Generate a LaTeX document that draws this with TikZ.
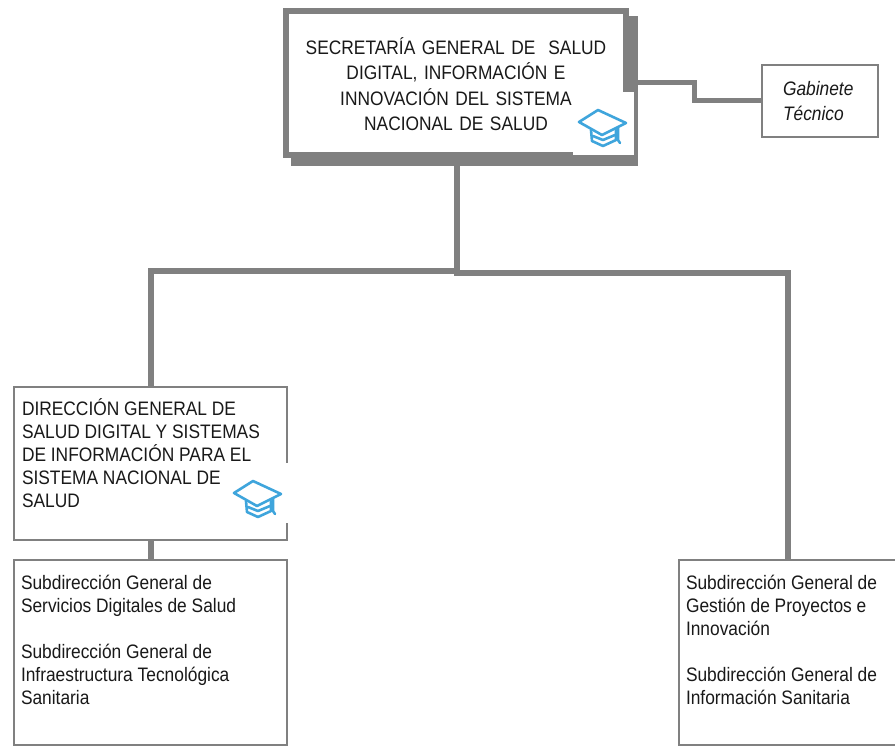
\documentclass[tikz,border=0pt]{standalone}
\usepackage{fontspec}
\setmainfont[FakeStretch=0.89]{Liberation Sans}
\definecolor{linegray}{HTML}{808080}
\definecolor{capblue}{HTML}{3FA5DC}
\tikzset{
  x=1pt,y=-1pt,
  box/.style={draw=linegray,line width=2pt,fill=white,anchor=north west,inner sep=0pt,outer sep=0pt},
  conn/.style={draw=linegray,line width=6pt,line cap=butt,line join=miter},
  txt/.style={anchor=north west,inner sep=0pt,outer sep=0pt,text=black!90,font=\fontsize{19.5}{23}\selectfont,align=left},
  capline/.style={draw=capblue,line width=2.6pt,line join=round,line cap=round},
  patch/.style={fill=white,draw=none},
}
\newcommand{\capicon}[2]{%
  \begin{scope}[shift={(#1,#2)}]
    \draw[capline] (1,13) -- (20,1) -- (48,14) -- (24,26) -- cycle;
    \draw[capline] (13,21) -- (14,32) -- (25,37) -- (38,31) -- (38,21);
    \draw[capline] (15,27) -- (25,31) -- (37,26);
    \draw[capline] (40,19) -- (40,31) -- (42,34);
  \end{scope}}
\begin{document}
\begin{tikzpicture}
\useasboundingbox (0,0) rectangle (895,750);
\fill[white] (0,0) rectangle (895,750);
% junctions and bends
\coordinate (hub) at (457,271);
\coordinate (hubR) at (454,273);
\coordinate (bendL) at (150.5,271);
\coordinate (bendR) at (788,273);
\coordinate (stepA) at (694,82);
\coordinate (stepB) at (694,100.5);
% boxes
\node[box,minimum width=273pt,minimum height=153pt] (dg) at (14,387) {};
\node[box,minimum width=273pt,minimum height=185pt] (sl) at (14,560) {};
\node[box,minimum width=218pt,minimum height=185pt] (sr) at (679,560) {};
\node[box,minimum width=116pt,minimum height=72pt] (gt) at (762,65) {};
% main box with offset shadow
\node[anchor=north west,fill=linegray,inner sep=0pt,minimum width=347pt,minimum height=150pt] (mainshadow) at (291,16) {};
\node[anchor=north west,draw=linegray,line width=6pt,fill=white,inner sep=0pt,outer sep=0pt,minimum width=340pt,minimum height=144pt] (main) at (286,11) {};
% connectors
\draw[conn] (mainshadow.south -| hub) -- (hub);
\draw[conn] (hub) -- (bendL) -- (bendL |- dg.north);
\draw[conn] (hubR) -- (bendR) -- (sr.north -| bendR);
\draw[conn,line width=5pt] (mainshadow.east |- stepA) -- (stepA) -- (stepB) -- (gt.west |- stepB);
\draw[conn] (dg.south -| bendL) -- (sl.north -| bendL);
% white patches behind the icons
\fill[patch] (573,92) rectangle (634,155);
\fill[patch] (286,463) rectangle (288.2,523);
% texts
\node[txt,align=center,font=\fontsize{19.5}{25.2}\selectfont,text width=320pt,anchor=north] (tmain) at (456,37.8) {SECRETARÍA GENERAL DE\ \ SALUD\\DIGITAL, INFORMACIÓN E\\INNOVACIÓN DEL SISTEMA\\NACIONAL DE SALUD};
\node[txt,font=\fontsize{19.5}{25}\selectfont] (tgt) at (783,81) {\itshape Gabinete\\\itshape Técnico};
\node[txt] (tdg) at (22,399) {DIRECCIÓN GENERAL DE\\SALUD DIGITAL Y SISTEMAS\\DE INFORMACIÓN PARA EL\\SISTEMA NACIONAL DE\\SALUD};
\node[txt] (tsl) at (21,575) {Subdirección General de\\Servicios Digitales de Salud\\[23pt]Subdirección General de\\Infraestructura Tecnológica\\Sanitaria};
\node[txt] (tsr) at (686,575) {Subdirección General de\\Gestión de Proyectos e\\Innovación\\[23pt]Subdirección General de\\Información Sanitaria};
\capicon{578}{109}
\capicon{233}{480}
\end{tikzpicture}
\end{document}
